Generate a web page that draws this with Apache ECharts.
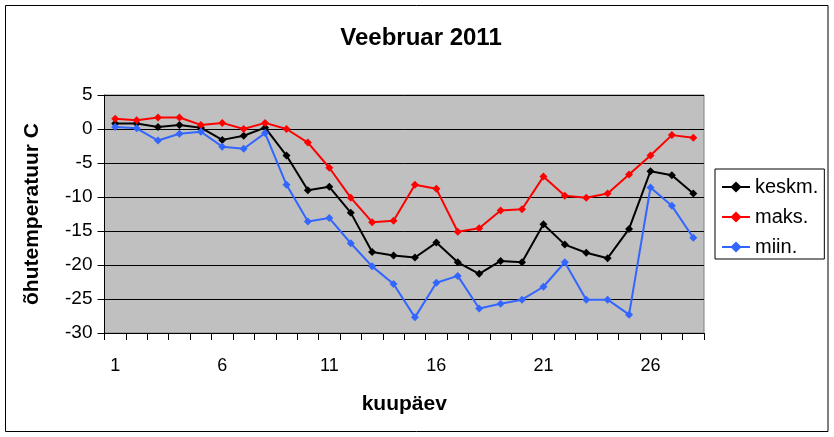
<!DOCTYPE html>
<html lang="et">
<head>
  <meta charset="UTF-8">
  <title>Veebruar 2011</title>
  <script src="https://cdn.jsdelivr.net/npm/echarts@6/dist/echarts.min.js"></script>
  <style>
    body { margin: 0; background: #fff; }
  </style>
</head>
<body>
  <div id="main" style="width: 834px;height:437px;"></div>
</body>
<script>
  // päevad ja temperatuurid
  var days = [];
  for (var d = 1; d <= 28; d++) days.push(String(d));

  var keskm = [0.8, 0.8, 0.3, 0.6, 0.2, -1.6, -1.0, 0.2, -3.9, -9.0,
    -8.5, -12.3, -18.1, -18.6, -18.9, -16.7, -19.6, -21.3, -19.4, -19.6,
    -14.0, -17.0, -18.2, -19.0, -14.7, -6.2, -6.8, -9.5];
  var maks = [1.5, 1.3, 1.7, 1.7, 0.6, 0.9, 0.0, 0.9, 0.0, -2.0,
    -5.7, -10.1, -13.7, -13.5, -8.2, -8.8, -15.1, -14.6, -12.0, -11.8,
    -7.0, -9.8, -10.1, -9.5, -6.7, -3.9, -0.9, -1.3];
  var miin = [0.3, 0.1, -1.7, -0.7, -0.4, -2.6, -2.9, -0.6, -8.2, -13.6,
    -13.1, -16.8, -20.2, -22.8, -27.7, -22.6, -21.6, -26.4, -25.7, -25.1,
    -23.2, -19.6, -25.1, -25.1, -27.3, -8.6, -11.3, -16.0];

  var font = "'Liberation Sans', Arial, sans-serif";

  function lineSeries(name, data, color) {
    return {
      name: name,
      type: 'line',
      data: data,
      symbol: 'diamond',
      symbolSize: 8,
      lineStyle: { color: color, width: 2 },
      itemStyle: { color: color },
      animation: false
    };
  }

  var myChart = echarts.init(document.getElementById('main'));
  var option = {
    animation: false,
    textStyle: { fontFamily: font, color: '#000' },
    title: {
      text: 'Veebruar 2011',
      left: 416,
      textAlign: 'center',
      top: 21,
      textStyle: { fontSize: 24, fontWeight: 'bold', fontFamily: font, color: '#000' }
    },
    graphic: [{
      type: 'rect',
      shape: { x: 5.5, y: 5.5, width: 822.5, height: 426 },
      style: { fill: 'none', stroke: '#000', lineWidth: 1 },
      silent: true
    }],
    legend: {
      orient: 'vertical',
      left: 715,
      top: 169,
      padding: [8, 6, 2, 6],
      itemWidth: 28,
      itemHeight: 14,
      itemGap: 10,
      borderColor: '#000',
      borderWidth: 1,
      backgroundColor: '#fff',
      textStyle: { fontSize: 20, lineHeight: 20, fontFamily: font, color: '#000' },
      data: ['keskm.', 'maks.', 'miin.']
    },
    grid: {
      left: 104.5,
      right: 130,
      top: 95,
      bottom: 104,
      show: true,
      backgroundColor: '#c0c0c0',
      borderColor: '#808080',
      borderWidth: 1
    },
    xAxis: {
      type: 'category',
      data: days,
      boundaryGap: true,
      name: 'kuupäev',
      nameLocation: 'middle',
      nameGap: 61,
      nameTextStyle: { fontSize: 21, fontWeight: 'bold', fontFamily: font, color: '#000' },
      axisLine: { onZero: false, lineStyle: { color: '#000', width: 1 } },
      axisTick: { show: true, interval: 0, length: 7, lineStyle: { color: '#000' } },
      axisLabel: { interval: 4, fontSize: 18, margin: 24, color: '#000', fontFamily: font },
      splitLine: { show: false }
    },
    yAxis: {
      type: 'value',
      min: -30,
      max: 5,
      interval: 5,
      name: 'õhutemperatuur C',
      nameLocation: 'middle',
      nameRotate: 90,
      nameGap: 62,
      nameTextStyle: { fontSize: 21, fontWeight: 'bold', fontFamily: font, color: '#000' },
      axisLine: { show: true, lineStyle: { color: '#000', width: 1 } },
      axisTick: { show: true, length: 7, lineStyle: { color: '#000' } },
      axisLabel: { fontSize: 19, margin: 12, color: '#000', fontFamily: font },
      splitLine: { show: true, lineStyle: { color: '#000', width: 1 } }
    },
    series: [
      lineSeries('keskm.', keskm, '#000000'),
      lineSeries('maks.', maks, '#ff0000'),
      lineSeries('miin.', miin, '#3366ff')
    ]
  };
  myChart.setOption(option);
</script>
</html>
